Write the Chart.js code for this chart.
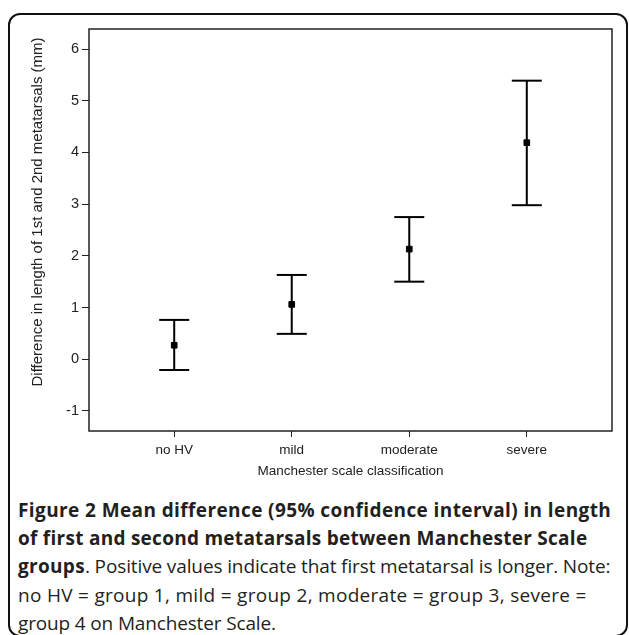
<!DOCTYPE html>
<html>
<head>
<meta charset="utf-8">
<script src="https://cdn.jsdelivr.net/npm/chart.js"></script>
<style>
  html, body { margin: 0; padding: 0; background: #fff; }
  body { width: 629px; height: 635px; position: relative; overflow: hidden; }
  .frame { position: absolute; left: 8px; top: 13px; width: 620px; height: 624px;
           border: 2px solid #111; border-radius: 12px; box-sizing: border-box; }
  .chart-box { position: absolute; left: 0; top: 0; width: 629px; height: 490px; }
  .caption { position: absolute; left: 18px; top: 496px; font-family: 'Open Sans', sans-serif;
             font-size: 19px; line-height: 28.2px; color: #231f20; white-space: nowrap; }
  .caption b { font-weight: 700; }
  .l1 { letter-spacing: 0.4px; }
  .l2 { letter-spacing: 0.27px; }
  .l3 { letter-spacing: -0.12px; }
  .l3 b { letter-spacing: 0.3px; }
  .l4 { letter-spacing: 0.29px; }
  .l5 { letter-spacing: -0.15px; }
</style>
</head>
<body>
<div class="frame"></div>
<div class="chart-box"><canvas id="ci-chart"></canvas></div>
<div class="caption">
  <div class="l1"><b>Figure 2 Mean difference (95% confidence interval) in length</b></div>
  <div class="l2"><b>of first and second metatarsals between Manchester Scale</b></div>
  <div class="l3"><b>groups</b>. Positive values indicate that first metatarsal is longer. Note:</div>
  <div class="l4">no HV = group 1, mild = group 2, moderate = group 3, severe =</div>
  <div class="l5">group 4 on Manchester Scale.</div>
</div>
<script>
    // 数据
    var categories = ['no HV', 'mild', 'moderate', 'severe'];
    var meanDiff = [0.27, 1.06, 2.13, 4.19];
    var ciLower = [-0.21, 0.49, 1.50, 2.98];
    var ciUpper = [0.76, 1.63, 2.75, 5.39];
    var yTicks = [-1, 0, 1, 2, 3, 4, 5, 6];
    var yTitle = 'Difference in length of 1st and 2nd metatarsals (mm)';

    // 误差线：竖线、上下横线、均值点
    var stems = [], caps = [], means = [];
    categories.forEach(function(c, i) {
        stems.push({x: i + 1, y: ciLower[i]}, {x: i + 1, y: ciUpper[i]}, {x: i + 1, y: null});
        caps.push({x: i + 1, y: ciLower[i]}, {x: i + 1, y: ciUpper[i]});
        means.push({x: i + 1, y: meanDiff[i]});
    });

    var fontFamily = "'Liberation Sans', Arial, sans-serif";

    // 外框 + 纵轴标题
    var boxPlugin = {
        id: 'plotBox',
        afterDraw: function(chart) {
            var a = chart.chartArea, ctx = chart.ctx;
            ctx.save();
            ctx.strokeStyle = '#222';
            ctx.lineWidth = 1.5;
            ctx.strokeRect(a.left, a.top, a.right - a.left, a.bottom - a.top);
            ctx.translate(38, (a.top + a.bottom) / 2 - 18);
            ctx.rotate(-Math.PI / 2);
            ctx.fillStyle = '#222';
            ctx.font = '15px ' + fontFamily;
            ctx.textAlign = 'center';
            ctx.textBaseline = 'middle';
            ctx.fillText(yTitle, 0, 0);
            ctx.restore();
        }
    };

    var options = {
        responsive: true,
        maintainAspectRatio: false,
        animation: false,
        layout: { padding: { top: 29, right: 16, left: 0, bottom: 0 } },
        plugins: { legend: { display: false }, tooltip: { enabled: false } },
        scales: {
            x: {
                type: 'linear',
                min: 0.275,
                max: 4.725,
                afterBuildTicks: function(scale) {
                    scale.ticks = categories.map(function(c, i) { return {value: i + 1}; });
                },
                afterFit: function(scale) { scale.height = 59; },
                ticks: {
                    color: '#222',
                    font: {family: fontFamily, size: 13.5},
                    padding: 5,
                    maxRotation: 0,
                    callback: function(v) { return categories[v - 1]; }
                },
                grid: { drawOnChartArea: false, drawTicks: true, tickLength: 6, color: '#222', lineWidth: 1 },
                border: { display: false },
                title: { display: true, text: 'Manchester scale classification', color: '#222',
                         font: {family: fontFamily, size: 13.5}, padding: { top: 0, bottom: 11 } }
            },
            y: {
                min: -1.39,
                max: 6.39,
                afterBuildTicks: function(scale) {
                    scale.ticks = yTicks.map(function(v) { return {value: v}; });
                },
                afterFit: function(scale) { scale.width = 89; },
                ticks: { color: '#222', font: {family: fontFamily, size: 14.5}, padding: 3 },
                grid: { drawOnChartArea: false, drawTicks: true, tickLength: 7, color: '#222', lineWidth: 1 },
                border: { display: false }
            }
        }
    };

    var ctx = document.getElementById('ci-chart').getContext('2d');
    var myChart = new Chart(ctx, {
        type: 'scatter',
        data: {
            datasets: [
                { type: 'line', data: stems, spanGaps: false, borderColor: '#000', borderWidth: 2,
                  pointRadius: 0, fill: false },
                { data: caps, pointStyle: 'line', pointRadius: 15, borderColor: '#000', borderWidth: 2 },
                { data: means, pointStyle: 'rect', pointRadius: 4, backgroundColor: '#000',
                  borderColor: '#000', borderWidth: 1 }
            ]
        },
        options: options,
        plugins: [boxPlugin]
    });
</script>
</body>
</html>
